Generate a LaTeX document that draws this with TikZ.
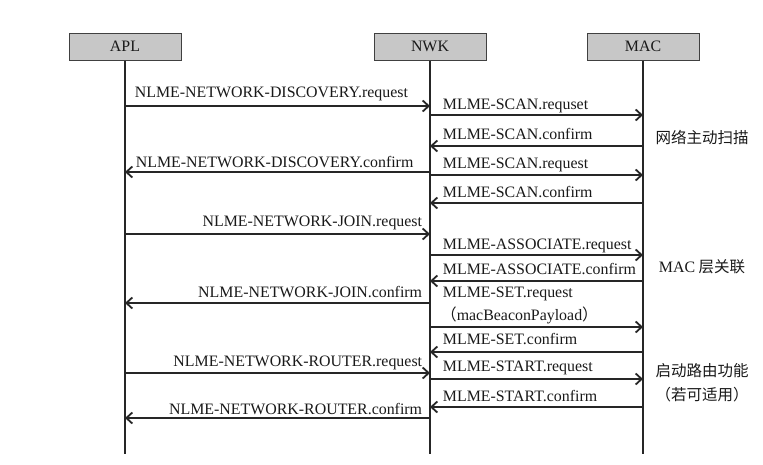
\documentclass[tikz,border=0pt]{standalone}
\usepackage{fontspec}
\setmainfont{Liberation Serif}
\newfontfamily\cjk{Noto Sans CJK SC}
\usetikzlibrary{arrows.meta}

\begin{document}
\begin{tikzpicture}[x=1pt, y=-1pt,
    every node/.style={font=\fontsize{15.9}{18}\selectfont, text=black!90},
    layer/.style={rectangle, draw=black!75, fill=black!22, line width=1pt,
                  minimum width=112pt, minimum height=27pt, inner sep=0pt},
    life/.style={line width=2.2pt, draw=black!85},
    msg/.style={line width=1.8pt, draw=black!85,
                -{Straight Barb[length=6pt, width=11pt]}},
    lw/.style={anchor=base west, inner sep=0pt},
    le/.style={anchor=base east, inner sep=0pt},
    note/.style={font=\cjk\fontsize{15.5}{18}\selectfont, inner sep=0pt},
  ]
  \useasboundingbox (0,0) rectangle (763,464);
  % layers
  \node[layer] (apl) at (125,46.5) {APL};
  \node[layer] (nwk) at (430,46.5) {NWK};
  \node[layer] (mac) at (643,46.5) {MAC};
  \coordinate (bot) at (0,454);
  \draw[life] (apl) -- (apl |- bot);
  \draw[life] (nwk) -- (nwk |- bot);
  \draw[life] (mac) -- (mac |- bot);
  % message rows
  \coordinate (r1) at (0,106);
  \coordinate (r2) at (0,115);
  \coordinate (r3) at (0,146);
  \coordinate (r4) at (0,172);
  \coordinate (r5) at (0,175);
  \coordinate (r6) at (0,203);
  \coordinate (r7) at (0,234);
  \coordinate (r8) at (0,255);
  \coordinate (r9) at (0,281);
  \coordinate (r10) at (0,303);
  \coordinate (r11) at (0,327);
  \coordinate (r12) at (0,352);
  \coordinate (r13) at (0,373);
  \coordinate (r14) at (0,379);
  \coordinate (r15) at (0,407);
  \coordinate (r16) at (0,418);
  % network discovery
  \draw[msg] (apl |- r1) -- node[lw, pos=0, xshift=9pt, yshift=9pt] (l1) {NLME-NETWORK-DISCOVERY.request} (nwk |- r1);
  \draw[msg] (nwk |- r2) -- node[lw, pos=0, xshift=12pt, yshift=6pt] (l2) {MLME-SCAN.requset} (mac |- r2);
  \draw[msg] (mac |- r3) -- node[lw, pos=1, xshift=12pt, yshift=7pt] (l3) {MLME-SCAN.confirm} (nwk |- r3);
  \draw[msg] (nwk |- r4) -- node[lw, pos=1, xshift=10pt, yshift=5pt] (l4) {NLME-NETWORK-DISCOVERY.confirm} (apl |- r4);
  \draw[msg] (nwk |- r5) -- node[lw, pos=0, xshift=12pt, yshift=7pt] (l5) {MLME-SCAN.request} (mac |- r5);
  \draw[msg] (mac |- r6) -- node[lw, pos=1, xshift=12pt, yshift=6pt] (l6) {MLME-SCAN.confirm} (nwk |- r6);
  % join
  \draw[msg] (apl |- r7) -- node[le, pos=1, xshift=-7pt, yshift=8pt] (l7) {NLME-NETWORK-JOIN.request} (nwk |- r7);
  \draw[msg] (nwk |- r8) -- node[lw, pos=0, xshift=12pt, yshift=6pt] (l8) {MLME-ASSOCIATE.request} (mac |- r8);
  \draw[msg] (mac |- r9) -- node[lw, pos=1, xshift=12pt, yshift=7pt] (l9) {MLME-ASSOCIATE.confirm} (nwk |- r9);
  \draw[msg] (nwk |- r10) -- node[le, pos=0, xshift=-7pt, yshift=6pt] (l10) {NLME-NETWORK-JOIN.confirm} (apl |- r10);
  % router start
  \draw[msg] (nwk |- r11) -- node[lw, pos=0, xshift=10pt, yshift=7pt] (l11b) {{\cjk （}macBeaconPayload{\cjk ）}}
    node[lw, pos=0, xshift=12pt, yshift=30pt] (l11a) {MLME-SET.request} (mac |- r11);
  \draw[msg] (mac |- r12) -- node[lw, pos=1, xshift=12pt, yshift=7.5pt] (l12) {MLME-SET.confirm} (nwk |- r12);
  \draw[msg] (apl |- r13) -- node[le, pos=1, xshift=-7pt, yshift=7pt] (l13) {NLME-NETWORK-ROUTER.request} (nwk |- r13);
  \draw[msg] (nwk |- r14) -- node[lw, pos=0, xshift=12pt, yshift=8pt] (l14) {MLME-START.request} (mac |- r14);
  \draw[msg] (mac |- r15) -- node[lw, pos=1, xshift=12pt, yshift=6pt] (l15) {MLME-START.confirm} (nwk |- r15);
  \draw[msg] (nwk |- r16) -- node[le, pos=0, xshift=-7pt, yshift=4pt] (l16) {NLME-NETWORK-ROUTER.confirm} (apl |- r16);
  % phases
  \node[note] (scan) at (702,137) {网络主动扫描};
  \node[note] (assoc) at (702,267) {{\rmfamily\fontsize{15.9}{18}\selectfont MAC} 层关联};
  \node[note] (route) at (702,371) {启动路由功能};
  \node[note] (route2) at (702,395) {（若可适用）};
\end{tikzpicture}
\end{document}
